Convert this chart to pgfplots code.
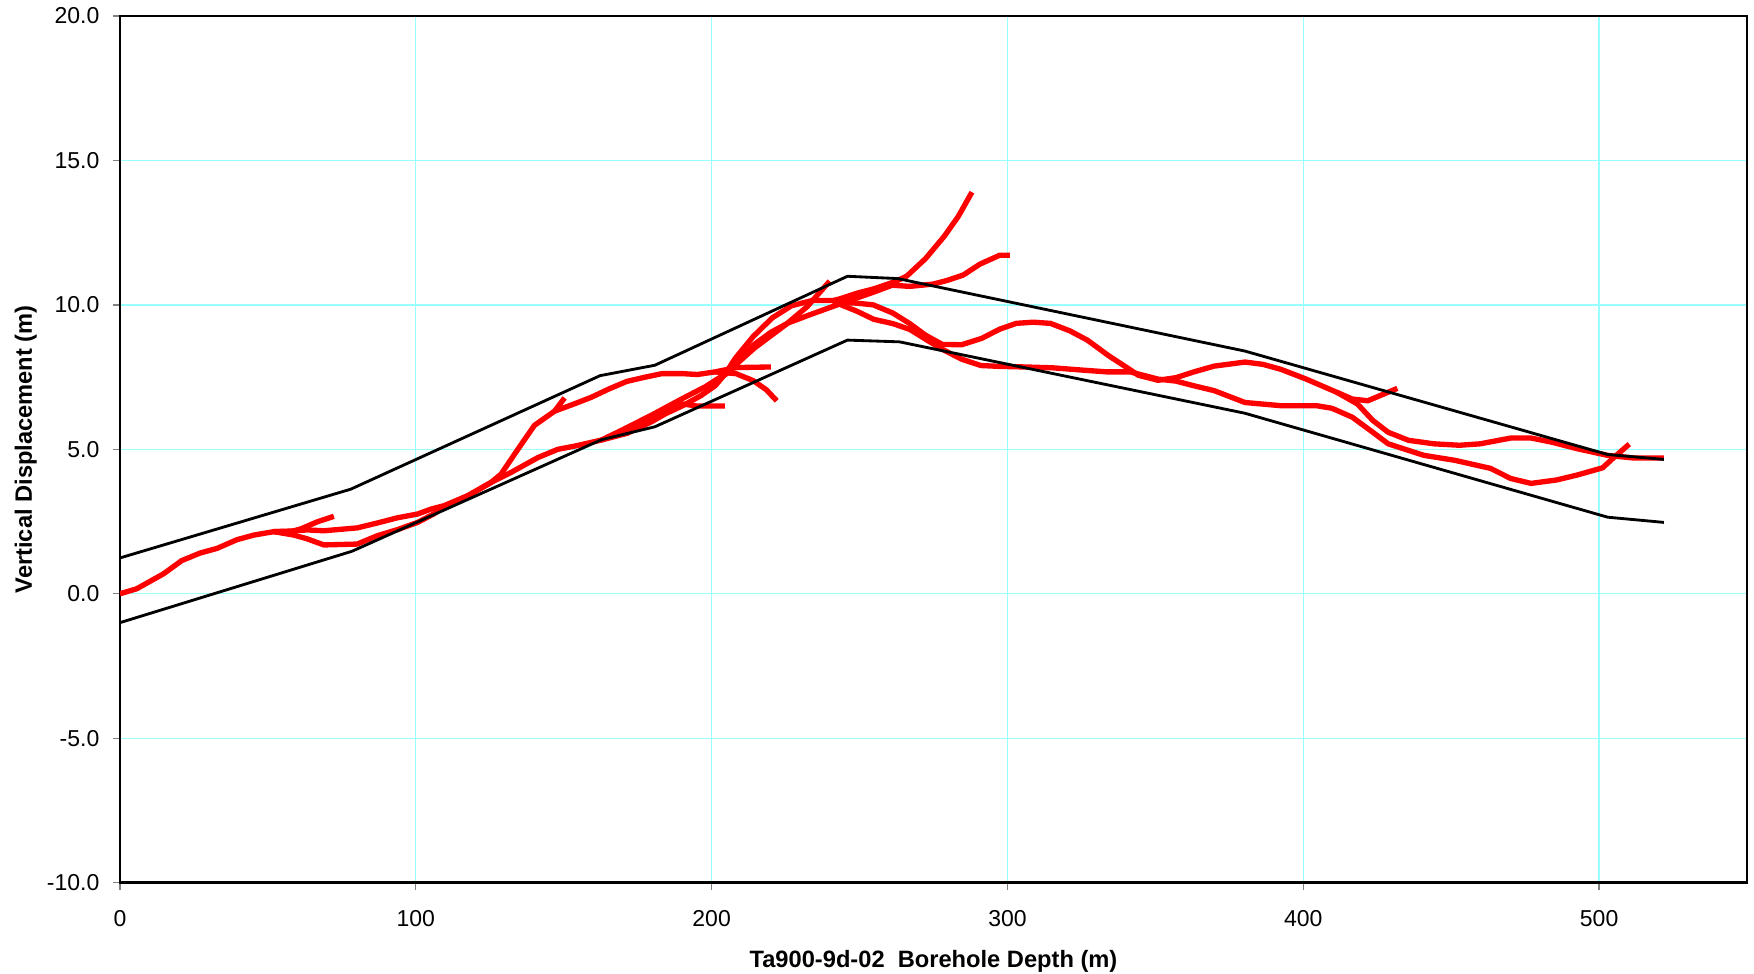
\documentclass[border=0pt]{standalone}
\usepackage{fontspec}
\setmainfont{Liberation Sans}
\usepackage{pgfplots}
\pgfplotsset{compat=1.18}
\definecolor{GridCyan}{HTML}{99FFFF}
\definecolor{TickGray}{HTML}{808080}

\begin{document}
\begin{tikzpicture}
\begin{axis}[
  scale only axis,
  width=488.1pt, height=260pt,
  xmin=0, xmax=550, ymin=-10, ymax=20,
  xtick={0,100,...,500},
  xticklabels={0,100,200,300,400,500},
  ytick={-10,-5,...,20},
  yticklabels={-10.0,-5.0,0.0,5.0,10.0,15.0,20.0},
  tick align=outside,
  tick pos=left,
  major tick length=2.2pt,
  tick style={TickGray, line width=0.4pt},
  grid=major,
  grid style={GridCyan, line width=0.4pt},
  axis line style={black, line width=0.8pt},
  ticklabel style={font=\fontsize{6.9}{8}\selectfont},
  xticklabel style={anchor=base, inner sep=0pt, yshift=-11pt},
  yticklabel style={anchor=east, inner sep=0pt, xshift=-3.8pt},
  xlabel={Ta900-9d-02\ \ Borehole Depth (m)},
  ylabel={Vertical Displacement (m)},
  label style={font=\fontsize{7.1}{8.5}\selectfont\bfseries},
  xlabel style={at={(axis description cs:0.5,0)}, anchor=base, inner sep=0pt, yshift=-25.4pt},
  ylabel style={at={(axis description cs:-0.0541,0.5)}, anchor=base, inner sep=0pt},
  red line/.style={red, line width=1.6pt, line join=round, mark=none},
  black line/.style={black, line width=0.85pt, line join=round, mark=none},
]
\coordinate (sw) at (rel axis cs:0,0);
\coordinate (ne) at (rel axis cs:1,1);

% red traces
\addplot[red line] coordinates {(0,0) (5.6,0.17) (14.7,0.69) (20.9,1.15) (27.1,1.41) (32.8,1.57) (39.5,1.87) (45.2,2.03) (52.0,2.15) (57.6,2.15) (61.0,2.24) (66.7,2.49) (72.3,2.68)};
\addplot[red line] coordinates {(52.0,2.15) (57.6,2.17) (63.3,2.21) (68.9,2.18) (80.2,2.28) (87,2.45) (93.8,2.63) (100.6,2.76) (105.1,2.93) (109.6,3.05) (117.5,3.39) (125.4,3.85) (128.8,4.14) (134.5,5.0) (140.1,5.83) (146.9,6.32) (150.3,6.78)};
\addplot[red line] coordinates {(52.0,2.15) (58.8,2.03) (63.3,1.90) (68.9,1.69) (80.2,1.72) (87,2.01) (93.8,2.22) (100.6,2.47) (106.2,2.77) (110,3.05) (117.5,3.39) (125.4,3.85) (132.2,4.2) (141.2,4.71) (148,5.0) (153.7,5.11) (162.7,5.32) (171.3,5.55) (179.6,5.95) (184.4,6.23) (190.4,6.52) (196.4,6.86) (201.2,7.20) (204.5,7.60) (208,8.15) (214,8.9) (220.5,9.55) (227,9.97) (234,10.15) (241,10.15) (243.1,10.2) (249,10.4) (255,10.56) (262.4,10.82) (266,11.0) (272.3,11.6) (278.6,12.37) (283.3,13.05) (288,13.9)};
\addplot[red line] coordinates {(162.7,5.32) (170,5.68) (180,6.2) (190,6.75) (198.3,7.19) (204.8,7.6) (209,8.05) (214,8.6) (220,9.05) (226,9.38) (233,9.65) (243,10.02) (255,10.45) (261,10.68) (267,10.64) (274.9,10.72) (279.4,10.84) (285,11.03) (290.7,11.41) (297.4,11.72) (300.8,11.72)};
\addplot[red line] coordinates {(198.3,7.19) (204.8,7.62) (214.4,8.5) (225.1,9.32) (232.3,9.94) (239.9,10.82)};
\addplot[red line] coordinates {(171.3,5.55) (180,6.02) (189.4,6.58) (194.9,6.50) (204.5,6.50)};
\addplot[red line] coordinates {(146.9,6.32) (153.5,6.57) (159.3,6.80) (165.3,7.09) (171.3,7.35) (177.2,7.49) (183.2,7.62) (190,7.62) (195.2,7.59) (201.2,7.68) (208.4,7.83) (220,7.85)};
\addplot[red line] coordinates {(201.2,7.68) (208.2,7.62) (214,7.38) (218.5,7.06) (222,6.68)};
\addplot[red line] coordinates {(241,10.15) (243.3,10.08) (249,10.06) (254.6,10.0) (261.2,9.72) (267,9.35) (272.3,8.95) (278,8.63) (284.5,8.62) (291.3,8.84) (297.4,9.16) (303,9.36) (308.7,9.40) (314.5,9.36) (321.1,9.10) (327,8.78) (334.2,8.24) (340.2,7.84) (344.3,7.56) (350.9,7.39) (357.0,7.48) (363.0,7.68) (369.9,7.88) (380.3,8.02) (386.4,7.94) (392.4,7.77) (401.0,7.43) (411.4,6.97) (416.6,6.74) (421.8,6.68) (431.8,7.11)};
\addplot[red line] coordinates {(411.4,6.97) (418.3,6.57) (423.5,6.0) (428.7,5.59) (435.6,5.31) (444.2,5.19) (452.8,5.14) (459.8,5.19) (470.1,5.39) (477.0,5.39) (483.9,5.25) (492.6,5.02) (502.9,4.79) (511.6,4.70) (521.9,4.70)};
\addplot[red line] coordinates {(241,10.15) (243.3,10.02) (249.1,9.78) (254.8,9.5) (261.3,9.35) (267,9.15) (272.8,8.78) (278,8.46) (284.5,8.12) (291,7.9) (297.4,7.87) (306.2,7.85) (315.4,7.82) (325.6,7.74) (333.6,7.68) (341.4,7.68) (344.5,7.6) (350.9,7.43) (357,7.36) (363,7.20) (369.9,7.03) (380.3,6.62) (392.4,6.51) (404.5,6.51) (409.7,6.42) (416.6,6.11) (423.5,5.59) (428.7,5.19) (440.8,4.79) (451.2,4.62) (463.3,4.34) (470.1,3.99) (477.0,3.82) (485.7,3.94) (492.6,4.11) (501.2,4.36) (504.6,4.68) (510.2,5.18)};

% envelope lines
\addplot[black line] coordinates {(0,1.24) (78,3.62) (162.3,7.55) (180.8,7.91) (245.9,10.99) (262.9,10.91) (380.3,8.40) (502.9,4.82) (521.9,4.65)};
\addplot[black line] coordinates {(0,-1.0) (78.4,1.47) (162.7,5.33) (180.8,5.78) (245.9,8.78) (263.5,8.72) (380.2,6.25) (502.9,2.65) (521.9,2.47)};
\end{axis}
\pgfresetboundingbox
\path[use as bounding box] ([xshift=-36pt,yshift=-27.4pt]sw) rectangle ([xshift=2.1pt,yshift=4.8pt]ne);
\end{tikzpicture}
\end{document}
